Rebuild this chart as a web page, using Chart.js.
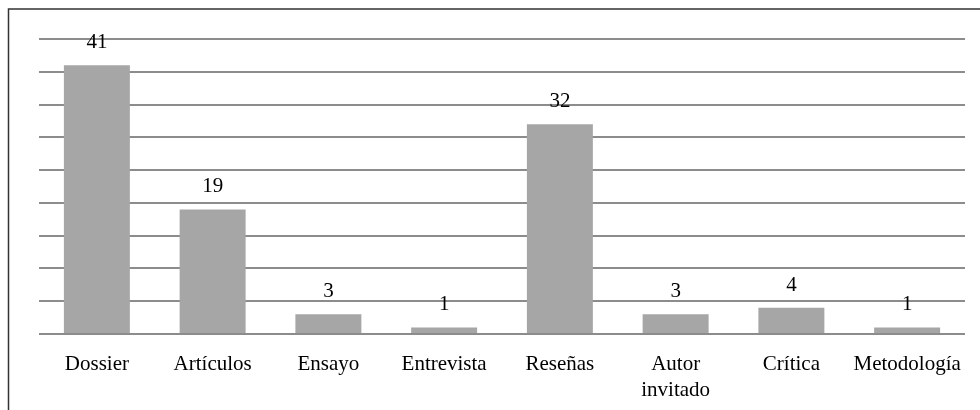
<!DOCTYPE html>
<html>
<head>
<meta charset="utf-8">
<script src="https://cdn.jsdelivr.net/npm/chart.js@4.4.0/dist/chart.umd.min.js"></script>
<style>
  html, body { margin: 0; padding: 0; background: #fff; }
  #wrap { width: 980px; height: 410px; }
</style>
</head>
<body>
<div id="wrap"><canvas id="myChart" width="980" height="410"></canvas></div>
<script>
const labels = ["Dossier", "Artículos", "Ensayo", "Entrevista", "Reseñas", ["Autor", "invitado"], "Crítica", "Metodología"];
const values = [41, 19, 3, 1, 32, 3, 4, 1];

// frame lines (left + top) like the original figure box
const framePlugin = {
  id: "frame",
  beforeDraw(chart) {
    const ctx = chart.ctx;
    ctx.save();
    ctx.strokeStyle = "#333";
    ctx.lineWidth = 1.5;
    ctx.beginPath();
    ctx.moveTo(8.5, 410);
    ctx.lineTo(8.5, 9);
    ctx.lineTo(980, 9);
    ctx.stroke();
    ctx.restore();
  },
};

// value labels above each bar
const valueLabels = {
  id: "valueLabels",
  afterDatasetsDraw(chart) {
    const ctx = chart.ctx;
    const meta = chart.getDatasetMeta(0);
    ctx.save();
    ctx.font = "21px 'Liberation Serif'";
    ctx.fillStyle = "#000";
    ctx.textAlign = "center";
    ctx.textBaseline = "alphabetic";
    meta.data.forEach((bar, i) => {
      ctx.fillText(values[i], bar.x, bar.y - 17);
    });
    ctx.restore();
  },
};

const config = {
  type: "bar",
  data: {
    labels: labels,
    datasets: [
      {
        data: values,
        backgroundColor: "#a6a6a6",
        categoryPercentage: 1,
        barPercentage: 0.57,
      },
    ],
  },
  options: {
    responsive: false,
    animation: false,
    layout: { padding: { left: 39, right: 15, top: 39, bottom: 0 } },
    plugins: {
      legend: { display: false },
      tooltip: { enabled: false },
    },
    scales: {
      x: {
        grid: { display: false },
        border: { display: false },
        ticks: {
          color: "#000",
          font: { family: "'Liberation Serif'", size: 21, lineHeight: 1.24 },
          padding: 9,
          maxRotation: 0,
          autoSkip: false,
        },
        afterFit(axis) {
          axis.height = 76;
        },
      },
      y: {
        min: 0,
        max: 45,
        ticks: { display: false, stepSize: 5 },
        grid: { color: "#8c8c8c", lineWidth: 2, drawTicks: false },
        border: { display: false },
        afterFit(axis) {
          axis.width = 0;
        },
      },
    },
  },
  plugins: [framePlugin, valueLabels],
};

const myChart = new Chart(document.getElementById("myChart"), config);
</script>
</body>
</html>
